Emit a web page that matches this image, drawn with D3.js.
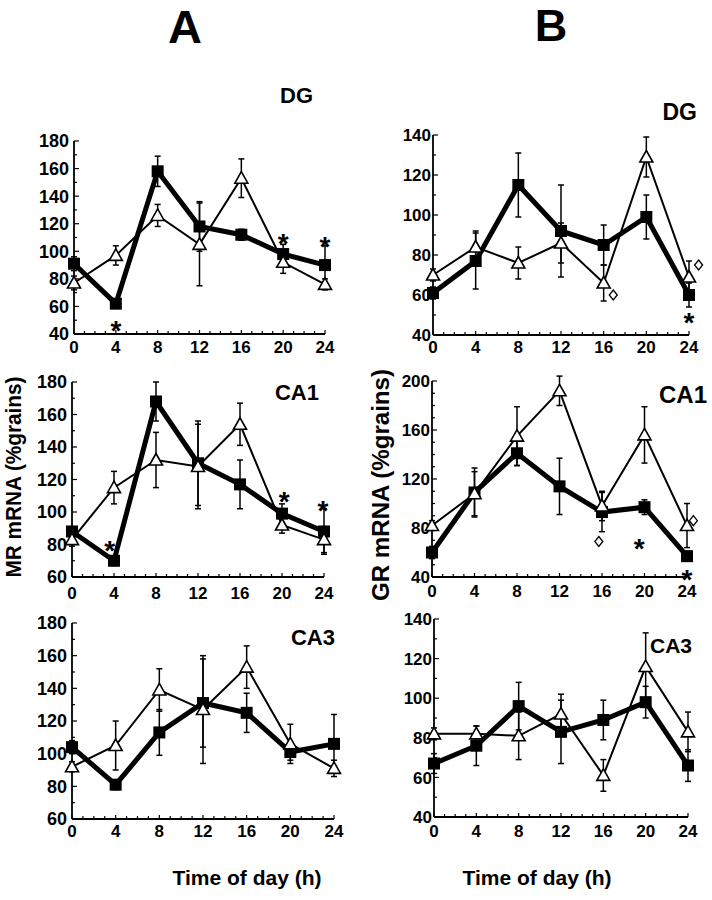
<!DOCTYPE html>
<html>
<head>
<meta charset="utf-8">
<script src="https://cdn.jsdelivr.net/npm/d3@7"></script>
<style>
	body { margin: 0; background: #fff }
	text { font-family: 'Liberation Sans', Arial, sans-serif; font-weight: bold; fill: #000 }
</style>
</head>
<body>
<div id="app"></div>
<script>

var hours = [0, 4, 8, 12, 16, 20, 24]

// MR mRNA (column A): filled squares / open triangles, with error bars
var mrDgSq = [91, 62, 158, 118, 112, 98, 90]
var mrDgSqErr = [5, 3, 11, 18, 4, 7, 14]
var mrDgTri = [77, 97, 126, 105, 153, 92, 76]
var mrDgTriErr = [5, 7, 8, 30, 14, 8, 4]

var mrCa1Sq = [88, 70, 168, 130, 117, 99, 88]
var mrCa1SqErr = [3, 3, 12, 26, 15, 6, 14]
var mrCa1Tri = [83, 115, 132, 128, 154, 92, 83]
var mrCa1TriErr = [4, 10, 17, 26, 13, 5, 8]

var mrCa3Sq = [104, 81, 113, 131, 125, 101, 106]
var mrCa3SqErr = [4, 3, 14, 27, 12, 5, 18]
var mrCa3Tri = [92, 105, 139, 127, 153, 106, 91]
var mrCa3TriErr = [3, 15, 13, 33, 13, 12, 5]

// GR mRNA (column B)
var grDgSq = [61, 77, 115, 92, 85, 99, 60]
var grDgSqErr = [3, 14, 16, 23, 10, 11, 6]
var grDgTri = [70, 84, 76, 86, 66, 129, 69]
var grDgTriErr = [3, 8, 8, 10, 9, 10, 8]

var grCa1Sq = [60, 109, 141, 114, 93, 97, 57]
var grCa1SqErr = [5, 20, 10, 23, 16, 6, 4]
var grCa1Tri = [82, 108, 155, 192, 98, 156, 82]
var grCa1TriErr = [4, 18, 24, 12, 12, 23, 18]

var grCa3Sq = [67, 76, 96, 83, 89, 98, 66]
var grCa3SqErr = [5, 10, 12, 16, 10, 8, 8]
var grCa3Tri = [82, 82, 81, 92, 61, 116, 83]
var grCa3TriErr = [3, 4, 12, 10, 8, 17, 10]

// tick labels
var mrDgTicks = [40, 60, 80, 100, 120, 140, 160, 180]
var mrTicks = [60, 80, 100, 120, 140, 160, 180]
var grTicks = [40, 60, 80, 100, 120, 140]
var grCa1Ticks = [40, 80, 120, 160, 200]

// significance marks [hour, value]
var mrDgStars = [[4, 48], [20, 111.5], [24, 109]]
var mrCa1Stars = [[3.6, 81], [20.2, 111], [23.9, 106]]
var grDgStars = [[24, 50]]
var grDgDiamonds = [[16.9, 60], [24.9, 75]]
var grCa1Stars = [[19.5, 70], [24, 44]]
var grCa1Diamonds = [[15.7, 69], [24.6, 86]]

/**
 * build one series from the arrays
 */
function series(values, errs) {
	return hours.map(function(h, i) { return { t: h, v: values[i], e: errs[i] } })
}

var panels = [
	{ title: 'DG', x0: 74, x1: 325, yTop: 141, yBot: 334, domain: [40, 180], ticks: mrDgTicks,
	  sq: series(mrDgSq, mrDgSqErr), tri: series(mrDgTri, mrDgTriErr), stars: mrDgStars, diamonds: [],
	  tx: 313, ty: 103, ts: 22, yFont: 18, xDy: 19, labGap: 5 },
	{ title: 'CA1', x0: 72, x1: 324, yTop: 382, yBot: 577, domain: [60, 180], ticks: mrTicks,
	  sq: series(mrCa1Sq, mrCa1SqErr), tri: series(mrCa1Tri, mrCa1TriErr), stars: mrCa1Stars, diamonds: [],
	  tx: 319, ty: 400, ts: 22, yFont: 18, xDy: 22, labGap: 5 },
	{ title: 'CA3', x0: 72, x1: 334, yTop: 623, yBot: 819, domain: [60, 180], ticks: mrTicks,
	  sq: series(mrCa3Sq, mrCa3SqErr), tri: series(mrCa3Tri, mrCa3TriErr), stars: [], diamonds: [],
	  tx: 335, ty: 645, ts: 22, yFont: 18, xDy: 18, labGap: 5 },
	{ title: 'DG', x0: 433, x1: 689, yTop: 135, yBot: 335, domain: [40, 140], ticks: grTicks,
	  sq: series(grDgSq, grDgSqErr), tri: series(grDgTri, grDgTriErr), stars: grDgStars, diamonds: grDgDiamonds,
	  tx: 697, ty: 120, ts: 23, yFont: 17, xDy: 18, labGap: 2 },
	{ title: 'CA1', x0: 432, x1: 687, yTop: 381, yBot: 577, domain: [40, 200], ticks: grCa1Ticks,
	  sq: series(grCa1Sq, grCa1SqErr), tri: series(grCa1Tri, grCa1TriErr), stars: grCa1Stars, diamonds: grCa1Diamonds,
	  tx: 707, ty: 403, ts: 24, yFont: 17, xDy: 20, labGap: 2 },
	{ title: 'CA3', x0: 434, x1: 688, yTop: 619, yBot: 817, domain: [40, 140], ticks: grTicks,
	  sq: series(grCa3Sq, grCa3SqErr), tri: series(grCa3Tri, grCa3TriErr), stars: [], diamonds: [],
	  tx: 692, ty: 653, ts: 21, yFont: 17, xDy: 20, labGap: 2 }
]

var svg = d3.select('#app').append('svg')
	.attr('width', 712)
	.attr('height', 900)

/**
 * draw one panel
 */
function drawPanel(p) {

	var x = d3.scaleLinear().domain([0, 24]).range([p.x0, p.x1])
	var y = d3.scaleLinear().domain(p.domain).range([p.yBot, p.yTop])
	var g = svg.append('g')

	// axes lines
	g.append('line').attr('x1', p.x0).attr('x2', p.x0).attr('y1', y(p.domain[1])).attr('y2', y(p.domain[0]))
		.attr('stroke', '#000').attr('stroke-width', 1.8)
	g.append('line').attr('x1', p.x0).attr('x2', p.x1).attr('y1', p.yBot).attr('y2', p.yBot)
		.attr('stroke', '#000').attr('stroke-width', 1.8)

	// y ticks, minor every 10
	g.selectAll('.ymin').data(d3.range(p.domain[0], p.domain[1] + 1, 10))
	  .enter().append('line')
		.attr('x1', p.x0).attr('x2', function(d) { return p.ticks.indexOf(d) >= 0 ? p.x0 + 5 : p.x0 + 3 })
		.attr('y1', function(d) { return y(d) }).attr('y2', function(d) { return y(d) })
		.attr('stroke', '#000').attr('stroke-width', 1.2)

	g.selectAll('.ylab').data(p.ticks)
	  .enter().append('text')
		.attr('x', p.x0 - p.labGap)
		.attr('y', function(d) { return y(d) })
		.attr('dy', '0.36em')
		.attr('text-anchor', 'end')
		.style('font-size', p.yFont + 'px')
		.text(function(d) { return d })

	// x ticks, minor every hour
	g.selectAll('.xmin').data(d3.range(0, 25))
	  .enter().append('line')
		.attr('x1', function(d) { return x(d) }).attr('x2', function(d) { return x(d) })
		.attr('y1', p.yBot).attr('y2', function(d) { return d % 4 === 0 ? p.yBot - 4 : p.yBot - 3 })
		.attr('stroke', '#000').attr('stroke-width', 1.2)

	g.selectAll('.xlab').data(hours)
	  .enter().append('text')
		.attr('x', function(d) { return x(d) })
		.attr('y', p.yBot + p.xDy)
		.attr('text-anchor', 'middle')
		.style('font-size', '17px')
		.text(function(d) { return d })

	// error bars
	var bars = p.tri.concat(p.sq)
	var eb = g.selectAll('.err').data(bars).enter().append('g')
	eb.append('line')
		.attr('x1', function(d) { return x(d.t) }).attr('x2', function(d) { return x(d.t) })
		.attr('y1', function(d) { return y(d.v - d.e) }).attr('y2', function(d) { return y(d.v + d.e) })
		.attr('stroke', '#000').attr('stroke-width', 1.5)
	eb.selectAll('.cap').data(function(d) { return [d.v - d.e, d.v + d.e].map(function(v) { return { t: d.t, v: v } }) })
	  .enter().append('line')
		.attr('x1', function(d) { return x(d.t) - 3 }).attr('x2', function(d) { return x(d.t) + 3 })
		.attr('y1', function(d) { return y(d.v) }).attr('y2', function(d) { return y(d.v) })
		.attr('stroke', '#000').attr('stroke-width', 1.5)

	var line = d3.line().x(function(d) { return x(d.t) }).y(function(d) { return y(d.v) })

	g.append('path').attr('d', line(p.tri)).attr('fill', 'none').attr('stroke', '#000').attr('stroke-width', 2)
	g.append('path').attr('d', line(p.sq)).attr('fill', 'none').attr('stroke', '#000').attr('stroke-width', 5)
		.attr('stroke-linejoin', 'miter')

	// markers
	g.selectAll('.sq').data(p.sq)
	  .enter().append('rect')
		.attr('x', function(d) { return x(d.t) - 6 }).attr('y', function(d) { return y(d.v) - 6 })
		.attr('width', 12).attr('height', 12)
		.attr('fill', '#000')

	g.selectAll('.tri').data(p.tri)
	  .enter().append('path')
		.attr('d', function(d) {
			var cx = x(d.t), cy = y(d.v)
			return 'M' + cx + ',' + (cy - 6.5) + 'L' + (cx + 6.5) + ',' + (cy + 5) + 'L' + (cx - 6.5) + ',' + (cy + 5) + 'Z'
		})
		.attr('fill', '#fff').attr('stroke', '#000').attr('stroke-width', 1.6)

	// significance marks
	g.selectAll('.star').data(p.stars)
	  .enter().append('text')
		.attr('x', function(d) { return x(d[0]) })
		.attr('y', function(d) { return y(d[1]) })
		.attr('dy', '0.62em')
		.attr('text-anchor', 'middle')
		.style('font-size', '28px')
		.text('*')

	g.selectAll('.dia').data(p.diamonds)
	  .enter().append('path')
		.attr('d', function(d) {
			var cx = x(d[0]), cy = y(d[1])
			return 'M' + cx + ',' + (cy - 5) + 'L' + (cx + 4) + ',' + cy + 'L' + cx + ',' + (cy + 5) + 'L' + (cx - 4) + ',' + cy + 'Z'
		})
		.attr('fill', '#fff').attr('stroke', '#000').attr('stroke-width', 1.3)

	g.append('text')
		.attr('x', p.tx).attr('y', p.ty)
		.attr('text-anchor', 'end')
		.style('font-size', p.ts + 'px')
		.text(p.title)
}

panels.forEach(drawPanel)

// column letters and axis titles
svg.append('text').attr('x', 185).attr('y', 43).attr('text-anchor', 'middle').style('font-size', '47px').text('A')
svg.append('text').attr('x', 551).attr('y', 41).attr('text-anchor', 'middle').style('font-size', '45px').text('B')

svg.append('text').attr('transform', 'translate(21,477) rotate(-90)')
	.attr('text-anchor', 'middle').style('font-size', '22px')
	.attr('textLength', 201).attr('lengthAdjust', 'spacingAndGlyphs')
	.text('MR mRNA (%grains)')
svg.append('text').attr('transform', 'translate(389,485) rotate(-90)')
	.attr('text-anchor', 'middle').style('font-size', '24px')
	.attr('textLength', 232).attr('lengthAdjust', 'spacingAndGlyphs')
	.text('GR mRNA (%grains)')

svg.append('text').attr('x', 247).attr('y', 885).attr('text-anchor', 'middle').style('font-size', '21px').text('Time of day (h)')
svg.append('text').attr('x', 537).attr('y', 885).attr('text-anchor', 'middle').style('font-size', '21px').text('Time of day (h)')

</script>
</body>
</html>
